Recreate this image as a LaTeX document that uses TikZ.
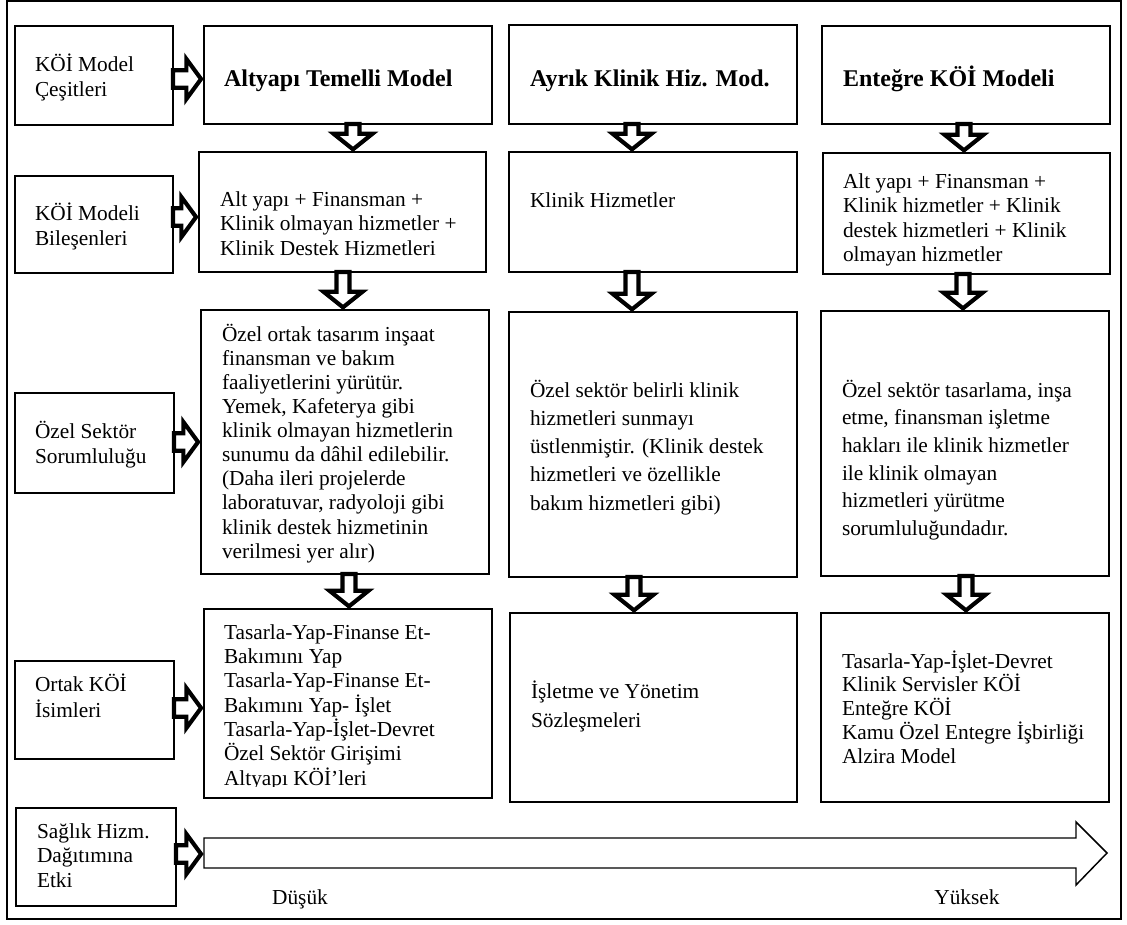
\documentclass[tikz,border=0pt]{standalone}
\usepackage{fontspec}
\setmainfont{Liberation Serif}
\usetikzlibrary{fit,calc}
% left-aligned block of lines; first argument is the leading in pt
\newcommand\linesof[2]{\vtop{\baselineskip=#1pt\lineskiplimit=-30pt\lineskip=0pt\halign{##\hfil\cr#2\crcr}}}
\begin{document}
\begin{tikzpicture}[x=0.75pt,y=-0.75pt,
  box/.style={draw=black, line width=1.1pt, inner sep=0pt, outer sep=0pt},
  txt/.style={inner sep=0pt, outer sep=0pt, anchor=base west, font=\fontsize{16}{19}\selectfont},
  title/.style={inner sep=0pt, outer sep=0pt, anchor=base west, font=\bfseries\fontsize{18}{21}\selectfont},
  rblock/.style={draw=black, fill=white, line width=3.1pt, miter limit=10,
    to path={let \p1=(\tikztostart), \p2=(\tikztotarget) in
      (\x1,\y1+6.6pt) -- (\x2-13.2pt,\y1+6.6pt) -- (\x2-13.2pt,\y1+15pt) -- (\x2-2.2pt,\y1)
      -- (\x2-13.2pt,\y1-15pt) -- (\x2-13.2pt,\y1-6.6pt) -- (\x1,\y1-6.6pt) -- cycle}},
  dblock/.style={draw=black, fill=white, line width=3.1pt, miter limit=10,
    to path={let \p1=(\tikztostart), \p2=(\tikztotarget) in
      (\x1-4.9pt,\y1) -- (\x1-4.9pt,\y2+13.7pt) -- (\x1-14.6pt,\y2+13.7pt) -- (\x1,\y2+2pt)
      -- (\x1+14.6pt,\y2+13.7pt) -- (\x1+4.9pt,\y2+13.7pt) -- (\x1+4.9pt,\y1) -- cycle}},
  scalebar/.style={draw=black, fill=white, line width=1.1pt}
]
\useasboundingbox (0,0) rectangle (1127,924);
\fill[white] (0,0) rectangle (1127,924);

% outer frame
\draw[line width=1.5pt] (6.5,1.5) rectangle (1121,919);

% row headings (left column)
\node[box, fit={(15,26) (173,125)}] (L1) {};
\node[box, fit={(15,176) (173,273)}] (L2) {};
\node[box, fit={(15,393) (174,493)}] (L3) {};
\node[box, fit={(15,661) (174,759)}] (L4) {};
\node[box, fit={(16,808) (176,906)}] (L5) {};
\node[txt] (L1t) at (35,71) {\linesof{19}{KÖİ Model\cr Çeşitleri}};
\node[txt] (L2t) at (35,220) {\linesof{19.3}{KÖİ Modeli\cr Bileşenleri}};
\node[txt] (L3t) at (35,438) {\linesof{18.9}{Özel Sektör\cr Sorumluluğu}};
\node[txt] (L4t) at (35,691) {\linesof{20}{Ortak KÖİ\cr İsimleri}};
\node[txt] (L5t) at (37,838) {\linesof{18.4}{Sağlık Hizm.\cr Dağıtımına\cr Etki}};

% infrastructure based model column
\node[box, fit={(204,26) (492,124)}] (A1) {};
\node[box, fit={(199,152) (486,272)}] (A2) {};
\node[box, fit={(201,310) (489,574)}] (A3) {};
\node[box, fit={(204,609) (492,798)}] (A4) {};
\node[title] (A1t) at (224,87) {Altyapı Temelli Model};
\node[txt] (A2t) at (220,206) {\linesof{18.4}{Alt yapı + Finansman +\cr Klinik olmayan hizmetler +\cr Klinik Destek Hizmetleri}};
\node[txt] (A3t) at (222,341) {\linesof{18.1}{Özel ortak tasarım inşaat\cr finansman ve bakım\cr faaliyetlerini yürütür.\cr Yemek, Kafeterya gibi\cr klinik olmayan hizmetlerin\cr sunumu da dâhil edilebilir.\cr (Daha ileri projelerde\cr laboratuvar, radyoloji gibi\cr klinik destek hizmetinin\cr verilmesi yer alır)}};
\begin{scope}
  \clip (204,609) rectangle (492,786);
  \node[txt] (A4t) at (224,639) {\linesof{18.25}{Tasarla-Yap-Finanse Et-\cr Bakımını Yap\cr Tasarla-Yap-Finanse Et-\cr Bakımını Yap- İşlet\cr Tasarla-Yap-İşlet-Devret\cr Özel Sektör Girişimi\cr Altyapı KÖİ’leri}};
\end{scope}

% separate clinical services model column
\node[box, fit={(509,25) (797,124)}] (B1) {};
\node[box, fit={(509,152) (797,272)}] (B2) {};
\node[box, fit={(509,312) (797,577)}] (B3) {};
\node[box, fit={(510,613) (797,802)}] (B4) {};
\node[title] (B1t) at (530,87) {Ayrık Klinik Hiz. Mod.};
\node[txt] (B2t) at (530,207) {Klinik Hizmetler};
\node[txt] (B3t) at (530,397) {\linesof{21.2}{Özel sektör belirli klinik\cr hizmetleri sunmayı\cr üstlenmiştir. (Klinik destek\cr hizmetleri ve özellikle\cr bakım hizmetleri gibi)}};
\node[txt] (B4t) at (531,698) {\linesof{21.75}{İşletme ve Yönetim\cr Sözleşmeleri}};

% integrated model column
\node[box, fit={(822,26) (1110,124)}] (C1) {};
\node[box, fit={(823,153) (1110,274)}] (C2) {};
\node[box, fit={(821,311) (1109,576)}] (C3) {};
\node[box, fit={(821,613) (1109,802)}] (C4) {};
\node[title] (C1t) at (843,87) {Enteğre KÖİ Modeli};
\node[txt] (C2t) at (843,188) {\linesof{18.4}{Alt yapı + Finansman +\cr Klinik hizmetler + Klinik\cr destek hizmetleri + Klinik\cr olmayan hizmetler}};
\node[txt] (C3t) at (842,397) {\linesof{20.8}{Özel sektör tasarlama, inşa\cr etme, finansman işletme\cr hakları ile klinik hizmetler\cr ile klinik olmayan\cr hizmetleri yürütme\cr sorumluluğundadır.}};
\node[txt] (C4t) at (842,668) {\linesof{17.85}{Tasarla-Yap-İşlet-Devret\cr Klinik Servisler KÖİ\cr Enteğre KÖİ\cr Kamu Özel Entegre İşbirliği\cr Alzira Model}};

% impact scale arrow
\draw[scalebar] (204,838) -- (1076,838) -- (1076,822) -- (1107,853) -- (1076,885) -- (1076,868) -- (204,868) -- cycle;
\coordinate (tail) at (204,854);
\node[txt, anchor=base] (low) at (300,904) {Düşük};
\node[txt, anchor=base] (high) at (967,904) {Yüksek};

% heading arrows
\draw[rblock] (L1.east |- 0,79) to (A1.west |- 0,79);
\draw[rblock] (L2.east |- 0,217) to (A2.west |- 0,217);
\draw[rblock] (L3.east |- 0,442) to (A3.west |- 0,442);
\draw[rblock] (L4.east |- 0,708) to (A4.west |- 0,708);
\draw[rblock] (L5.east |- 0,854) to (tail);

% column flow arrows
\draw[dblock] (A1.south -| 353,0) to (A2.north -| 353,0);
\draw[dblock] (A2.south -| 343,0) to (A3.north -| 343,0);
\draw[dblock] (A3.south -| 349,0) to (A4.north -| 349,0);
\draw[dblock] (B1.south -| 632,0) to (B2.north -| 632,0);
\draw[dblock] (B2.south -| 632,0) to (B3.north -| 632,0);
\draw[dblock] (B3.south -| 634,0) to (B4.north -| 634,0);
\draw[dblock] (C1.south -| 964,0) to (C2.north -| 964,0);
\draw[dblock] (C2.south -| 963,0) to (C3.north -| 963,0);
\draw[dblock] (C3.south -| 966,0) to (C4.north -| 966,0);
\end{tikzpicture}
\end{document}
